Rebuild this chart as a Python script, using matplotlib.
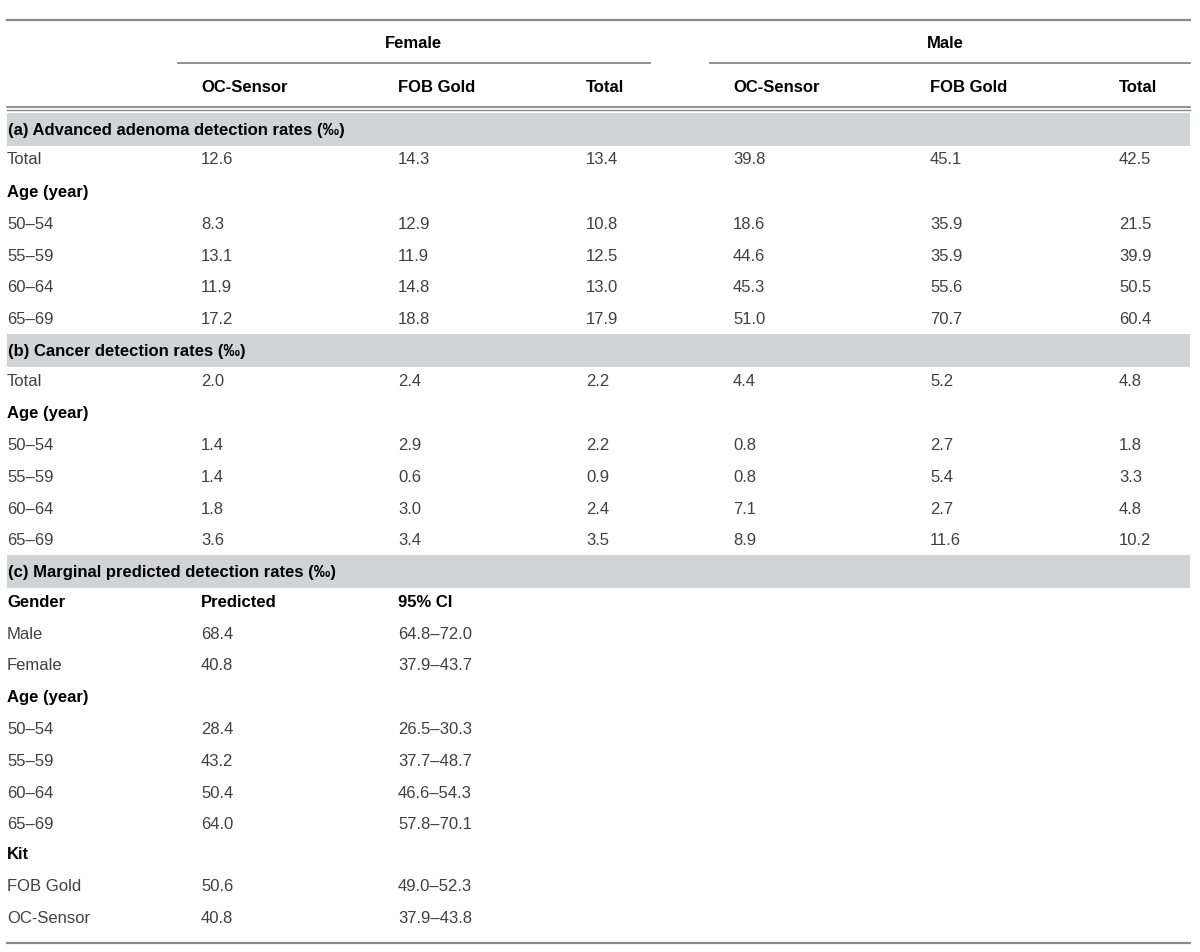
import matplotlib.pyplot as plt

# column headers
genders = ['Female', 'Male']
kits = ['OC-Sensor', 'FOB Gold', 'Total']
age_groups = ['50–54', '55–59', '60–64', '65–69']

# (a) advanced adenoma detection rates, female OC/FOB/Total then male OC/FOB/Total
adenoma_total = ['12.6', '14.3', '13.4', '39.8', '45.1', '42.5']
adenoma_age = [['8.3', '12.9', '10.8', '18.6', '35.9', '21.5'],
               ['13.1', '11.9', '12.5', '44.6', '35.9', '39.9'],
               ['11.9', '14.8', '13.0', '45.3', '55.6', '50.5'],
               ['17.2', '18.8', '17.9', '51.0', '70.7', '60.4']]

# (b) cancer detection rates
cancer_total = ['2.0', '2.4', '2.2', '4.4', '5.2', '4.8']
cancer_age = [['1.4', '2.9', '2.2', '0.8', '2.7', '1.8'],
              ['1.4', '0.6', '0.9', '0.8', '5.4', '3.3'],
              ['1.8', '3.0', '2.4', '7.1', '2.7', '4.8'],
              ['3.6', '3.4', '3.5', '8.9', '11.6', '10.2']]

# (c) marginal predicted detection rates
gender_labels = ['Male', 'Female']
gender_pred = ['68.4', '40.8']
gender_ci = ['64.8–72.0', '37.9–43.7']
age_pred = ['28.4', '43.2', '50.4', '64.0']
age_ci = ['26.5–30.3', '37.7–48.7', '46.6–54.3', '57.8–70.1']
kit_labels = ['FOB Gold', 'OC-Sensor']
kit_pred = ['50.6', '40.8']
kit_ci = ['49.0–52.3', '37.9–43.8']

sections = ['(a) Advanced adenoma detection rates (‰)',
            '(b) Cancer detection rates (‰)',
            '(c) Marginal predicted detection rates (‰)']

#layout (pixels)
W, H = 1200, 952
col_x = [201, 398, 586, 733, 930, 1119]
left = 7
right = 1190
step = 31.8
band_col = '#d2d3d5'
line_col = '#8a8a8a'
txt_col = '#404040'
fs = 12

fig = plt.figure(figsize=(W / 100, H / 100), dpi=100)
ax = fig.add_axes([0, 0, 1, 1])
ax.set_xlim(0, W)
ax.set_ylim(H, 0)
ax.axis('off')


def txt(x, y, s, bold=False, ha='left'):
    ax.text(x, y, s, fontsize=fs, fontweight='bold' if bold else 'normal',
            color='black' if bold else txt_col, ha=ha, va='center',
            family=['Liberation Sans', 'DejaVu Sans'])


def band(y, label):
    ax.axhspan(y - 17, y + 16, xmin=left / W, xmax=right / W, color=band_col, lw=0)
    txt(left + 1, y, label, bold=True)


#header
ax.plot([left, right], [20, 20], color=line_col, lw=1.6)
txt(413, 44, genders[0], bold=True, ha='center')
txt(945, 44, genders[1], bold=True, ha='center')
ax.plot([178, 650], [63, 63], color=line_col, lw=1.3)
ax.plot([710, right], [63, 63], color=line_col, lw=1.3)
for i, x in enumerate(col_x):
    txt(x, 88, kits[i % 3], bold=True)
ax.plot([left, right], [106.5, 106.5], color=line_col, lw=1.3)
ax.plot([left, right], [110, 110], color=line_col, lw=1.0)

#section a and b
y = 130
for sec, tot, ages in [(sections[0], adenoma_total, adenoma_age),
                       (sections[1], cancer_total, cancer_age)]:
    band(y, sec)
    y += 30
    txt(left, y, 'Total')
    for x, v in zip(col_x, tot):
        txt(x, y, v)
    y += 32.5
    txt(left, y, 'Age (year)', bold=True)
    for lab, row in zip(age_groups, ages):
        y += step
        txt(left, y, lab)
        for x, v in zip(col_x, row):
            txt(x, y, v)
    y += 31.5

#section c
band(y, sections[2])
y += 30
txt(left, y, 'Gender', bold=True)
txt(col_x[0], y, 'Predicted', bold=True)
txt(col_x[1], y, '95% CI', bold=True)
for lab, p, c in zip(gender_labels, gender_pred, gender_ci):
    y += step
    txt(left, y, lab)
    txt(col_x[0], y, p)
    txt(col_x[1], y, c)
y += step
txt(left, y, 'Age (year)', bold=True)
for lab, p, c in zip(age_groups, age_pred, age_ci):
    y += step
    txt(left, y, lab)
    txt(col_x[0], y, p)
    txt(col_x[1], y, c)
y += 29.5
txt(left, y, 'Kit', bold=True)
for lab, p, c in zip(kit_labels, kit_pred, kit_ci):
    y += step
    txt(left, y, lab)
    txt(col_x[0], y, p)
    txt(col_x[1], y, c)

ax.plot([left, right], [943, 943], color=line_col, lw=1.6)

plt.savefig('out.png', dpi=100)
